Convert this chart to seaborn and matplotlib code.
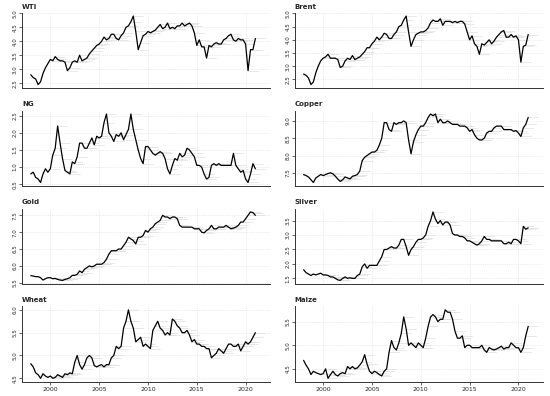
import numpy as np
import pandas as pd
import matplotlib
matplotlib.use("Agg")
import matplotlib.pyplot as plt
import seaborn as sns

# quarterly observations 1998Q1 .. 2021Q1 (log prices)
years = np.arange(1998.0, 2021.01, 0.25)

wti = [2.80, 2.70, 2.65, 2.45, 2.55, 2.85, 3.05, 3.20, 3.35, 3.30, 3.45, 3.35,
       3.30, 3.30, 3.25, 2.95, 3.05, 3.25, 3.30, 3.25, 3.50, 3.30, 3.35, 3.40,
       3.55, 3.65, 3.75, 3.85, 3.90, 4.00, 4.15, 4.05, 4.10, 4.25, 4.25, 4.10,
       4.05, 4.20, 4.30, 4.50, 4.55, 4.70, 4.90, 4.35, 3.70, 3.95, 4.20, 4.25,
       4.35, 4.30, 4.35, 4.40, 4.50, 4.60, 4.45, 4.50, 4.65, 4.45, 4.50, 4.45,
       4.55, 4.55, 4.65, 4.55, 4.60, 4.65, 4.55, 4.30, 3.85, 4.05, 3.80, 3.80,
       3.40, 3.85, 3.80, 3.90, 3.95, 3.90, 3.90, 4.05, 4.10, 4.20, 4.25, 4.05,
       4.00, 4.10, 4.05, 4.05, 3.90, 2.95, 3.70, 3.70, 4.10]
brent = [2.70, 2.65, 2.55, 2.30, 2.40, 2.75, 3.00, 3.20, 3.30, 3.35, 3.45, 3.30,
         3.30, 3.30, 3.25, 2.95, 3.00, 3.20, 3.30, 3.25, 3.40, 3.25, 3.30, 3.35,
         3.45, 3.55, 3.70, 3.70, 3.85, 3.95, 4.10, 4.00, 4.10, 4.25, 4.20, 4.05,
         4.05, 4.20, 4.30, 4.50, 4.55, 4.75, 4.90, 4.30, 3.75, 4.00, 4.20, 4.25,
         4.30, 4.30, 4.35, 4.45, 4.65, 4.75, 4.70, 4.70, 4.80, 4.55, 4.70, 4.70,
         4.70, 4.65, 4.70, 4.65, 4.70, 4.70, 4.60, 4.30, 4.00, 4.15, 3.85, 3.75,
         3.45, 3.85, 3.80, 3.90, 4.00, 3.85, 3.95, 4.10, 4.20, 4.30, 4.35, 4.10,
         4.10, 4.20, 4.10, 4.15, 4.00, 3.15, 3.75, 3.80, 4.20]
ng = [0.80, 0.85, 0.70, 0.65, 0.55, 0.80, 0.95, 0.85, 0.95, 1.35, 1.55, 2.20,
      1.70, 1.25, 0.90, 0.85, 0.80, 1.15, 1.10, 1.30, 1.70, 1.70, 1.55, 1.55,
      1.70, 1.85, 1.65, 1.90, 1.85, 1.90, 2.30, 2.55, 2.00, 1.90, 1.75, 1.95,
      1.90, 2.00, 1.80, 1.95, 2.10, 2.55, 2.10, 1.80, 1.50, 1.25, 1.10, 1.60,
      1.60, 1.50, 1.40, 1.35, 1.40, 1.45, 1.40, 1.25, 0.95, 0.80, 1.05, 1.25,
      1.20, 1.40, 1.30, 1.35, 1.55, 1.50, 1.40, 1.30, 1.05, 1.05, 1.00, 0.80,
      0.65, 0.70, 1.05, 1.10, 1.05, 1.10, 1.05, 1.05, 1.05, 1.05, 1.05, 1.40,
      1.05, 0.95, 0.85, 0.90, 0.65, 0.55, 0.80, 1.10, 0.95]
copper = [7.45, 7.42, 7.38, 7.30, 7.22, 7.35, 7.40, 7.45, 7.42, 7.45, 7.48, 7.50,
          7.47, 7.40, 7.32, 7.25, 7.30, 7.38, 7.35, 7.32, 7.40, 7.42, 7.45, 7.55,
          7.85, 7.95, 8.00, 8.05, 8.10, 8.10, 8.15, 8.30, 8.50, 8.95, 8.95, 8.75,
          8.70, 8.95, 8.90, 8.95, 8.95, 9.00, 8.95, 8.45, 8.05, 8.40, 8.60, 8.75,
          8.85, 8.85, 8.95, 9.10, 9.20, 9.15, 9.20, 8.95, 9.05, 8.95, 8.95, 9.00,
          8.95, 8.90, 8.90, 8.90, 8.85, 8.85, 8.85, 8.80, 8.70, 8.75, 8.60, 8.50,
          8.45, 8.45, 8.50, 8.65, 8.70, 8.70, 8.80, 8.85, 8.85, 8.85, 8.75, 8.75,
          8.75, 8.75, 8.70, 8.72, 8.65, 8.55, 8.80, 8.90, 9.10]
gold = [5.71, 5.70, 5.68, 5.68, 5.65, 5.58, 5.62, 5.65, 5.65, 5.62, 5.63, 5.60,
        5.58, 5.57, 5.60, 5.62, 5.65, 5.72, 5.72, 5.75, 5.85, 5.80, 5.90, 5.95,
        6.00, 5.97, 6.00, 6.05, 6.05, 6.05, 6.10, 6.20, 6.35, 6.45, 6.45, 6.45,
        6.50, 6.50, 6.60, 6.70, 6.85, 6.80, 6.75, 6.65, 6.85, 6.85, 6.90, 7.05,
        7.00, 7.10, 7.15, 7.25, 7.30, 7.35, 7.50, 7.45, 7.45, 7.40, 7.45, 7.45,
        7.40, 7.20, 7.15, 7.15, 7.15, 7.15, 7.15, 7.10, 7.10, 7.10, 7.00, 6.98,
        7.05, 7.10, 7.20, 7.10, 7.10, 7.15, 7.15, 7.15, 7.20, 7.15, 7.10, 7.12,
        7.15, 7.20, 7.30, 7.30, 7.40, 7.50, 7.60, 7.58, 7.50]
silver = [1.80, 1.70, 1.65, 1.60, 1.65, 1.62, 1.65, 1.68, 1.62, 1.62, 1.60, 1.55,
          1.55, 1.50, 1.45, 1.43, 1.50, 1.55, 1.50, 1.52, 1.50, 1.50, 1.60, 1.65,
          1.90, 2.00, 1.85, 1.95, 1.95, 1.95, 1.95, 2.10, 2.25, 2.50, 2.50, 2.55,
          2.60, 2.55, 2.55, 2.65, 2.85, 2.85, 2.60, 2.30, 2.50, 2.60, 2.75, 2.85,
          2.85, 2.90, 3.00, 3.30, 3.50, 3.80, 3.55, 3.40, 3.50, 3.35, 3.45, 3.45,
          3.35, 3.05, 3.00, 3.00, 2.95, 2.95, 2.90, 2.80, 2.80, 2.75, 2.70, 2.65,
          2.70, 2.80, 2.95, 2.85, 2.85, 2.80, 2.80, 2.80, 2.80, 2.80, 2.70, 2.70,
          2.75, 2.70, 2.85, 2.85, 2.80, 2.70, 3.30, 3.20, 3.25]
wheat = [4.82, 4.75, 4.62, 4.58, 4.50, 4.60, 4.55, 4.52, 4.55, 4.50, 4.52, 4.58,
         4.55, 4.52, 4.60, 4.58, 4.62, 4.60, 4.85, 5.00, 4.80, 4.70, 4.80, 4.95,
         5.00, 4.95, 4.78, 4.75, 4.78, 4.80, 4.75, 4.80, 4.80, 4.95, 5.00, 5.20,
         5.15, 5.20, 5.60, 5.75, 6.00, 5.75, 5.60, 5.30, 5.35, 5.40, 5.20, 5.25,
         5.20, 5.15, 5.55, 5.65, 5.75, 5.60, 5.55, 5.45, 5.50, 5.45, 5.80, 5.75,
         5.65, 5.60, 5.50, 5.50, 5.55, 5.45, 5.30, 5.35, 5.25, 5.25, 5.20, 5.20,
         5.15, 5.15, 4.95, 5.00, 5.05, 5.15, 5.10, 5.05, 5.15, 5.25, 5.25, 5.20,
         5.20, 5.25, 5.10, 5.20, 5.30, 5.25, 5.30, 5.40, 5.50]
maize = [4.68, 4.58, 4.50, 4.38, 4.45, 4.42, 4.40, 4.38, 4.40, 4.50, 4.30, 4.38,
         4.45, 4.38, 4.35, 4.40, 4.42, 4.40, 4.55, 4.50, 4.55, 4.50, 4.52, 4.58,
         4.65, 4.80, 4.60, 4.45, 4.40, 4.45, 4.42, 4.38, 4.35, 4.45, 4.50, 4.85,
         5.10, 4.95, 4.90, 5.05, 5.25, 5.60, 5.35, 5.00, 5.05, 5.00, 4.95, 5.05,
         5.00, 4.95, 5.15, 5.40, 5.60, 5.65, 5.60, 5.50, 5.55, 5.55, 5.75, 5.70,
         5.70, 5.55, 5.30, 5.15, 5.15, 5.20, 4.95, 5.00, 5.00, 4.95, 4.95, 4.95,
         4.95, 5.00, 4.90, 4.85, 4.95, 4.92, 4.90, 4.92, 4.95, 4.98, 4.92, 4.95,
         4.95, 5.05, 5.00, 4.95, 4.95, 4.85, 4.95, 5.20, 5.40]

names = ["WTI", "Brent", "NG", "Copper", "Gold", "Silver", "Wheat", "Maize"]
series = [wti, brent, ng, copper, gold, silver, wheat, maize]
yticks = [[2.5, 3.0, 3.5, 4.0, 4.5, 5.0],
          [2.5, 3.0, 3.5, 4.0, 4.5, 5.0],
          [0.5, 1.0, 1.5, 2.0, 2.5],
          [7.5, 8.0, 8.5, 9.0],
          [5.5, 6.0, 6.5, 7.0, 7.5],
          [1.5, 2.0, 2.5, 3.0, 3.5],
          [4.5, 5.0, 5.5, 6.0],
          [4.5, 5.0, 5.5]]
xticks = [2000, 2005, 2010, 2015, 2020]
fc_start = 2000.0   # first forecast origin
fc_horizon = 4      # quarters ahead

sns.set_style("ticks")
plt.rcParams["font.family"] = ["DejaVu Sans"]

fig, axes = plt.subplots(4, 2, figsize=(5.5, 3.96), dpi=100)
fig.subplots_adjust(left=0.04, right=0.987, bottom=0.036, top=0.968,
                    wspace=0.1, hspace=0.3)

for ax, name, vals, yt in zip(axes.flat, names, series, yticks):
    df = pd.DataFrame({"year": years, "value": vals})

    # grey forecast paths (no-change forecast from each origin)
    rows = []
    for i, (t, v) in enumerate(zip(years, vals)):
        if t < fc_start:
            continue
        for h in range(fc_horizon + 1):
            rows.append({"origin": i, "year": t + 0.25 * h, "value": v})
    fc = pd.DataFrame(rows)
    sns.lineplot(data=fc, x="year", y="value", units="origin", estimator=None,
                 color="#dedede", linewidth=0.5, ax=ax, zorder=1)

    sns.lineplot(data=df, x="year", y="value", color="black", linewidth=0.9,
                 ax=ax, zorder=3)

    rng = max(vals) - min(vals)
    ax.set_ylim(min(vals) - 0.05 * rng, max(vals) + 0.05 * rng)
    ax.set_xlim(1997.1, 2022.5)
    ax.set_yticks(yt)
    ax.set_yticklabels([f"{v:.1f}" for v in yt], rotation=90, va="center",
                       fontsize=4)
    ax.set_xticks(xticks)
    ax.grid(True, linestyle=":", color="#dadada", linewidth=0.5)
    ax.set_xlabel("")
    ax.set_ylabel("")
    ax.set_title(name, loc="left", fontsize=5, fontweight="bold", pad=3)
    ax.tick_params(axis="y", length=2, width=0.5, pad=1)
    ax.tick_params(axis="x", length=2, width=0.5, pad=1.5, labelsize=4.5)
    for s in ["left", "bottom"]:
        ax.spines[s].set_linewidth(0.7)
        ax.spines[s].set_color("#333333")
    sns.despine(ax=ax)

for ax in axes[:3].flat:
    ax.tick_params(axis="x", length=0, labelbottom=False)

fig.savefig("out.png", dpi=100)
